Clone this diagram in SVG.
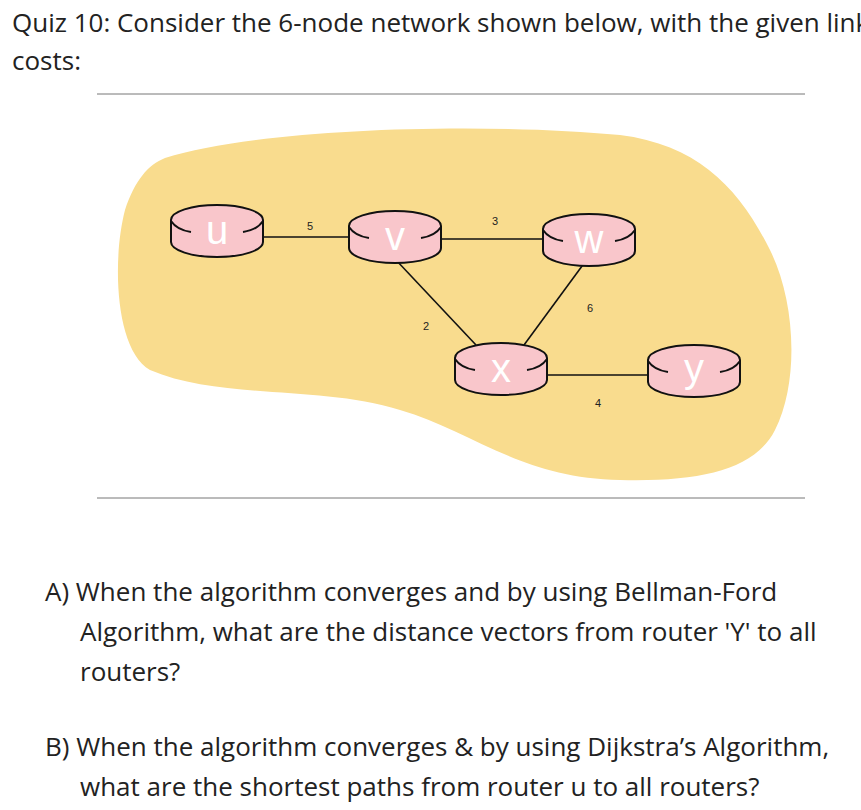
<svg xmlns="http://www.w3.org/2000/svg" width="861" height="810" viewBox="0 0 861 810">
<defs>
<style>
.t{font-family:"Open Sans","Noto Sans",sans-serif;font-size:26px;fill:#222}
.l{font-family:"Liberation Sans",Arial,sans-serif;font-size:11px;fill:#222;text-anchor:middle}
.n{font-family:"Liberation Sans",Arial,sans-serif;font-size:40px;fill:#fff;text-anchor:middle}
.r{fill:#f9c6cb;stroke:#111;stroke-width:2}
.h{fill:none;stroke:#111;stroke-width:2}
.e{stroke:#111;stroke-width:1.6}
</style>
<g id="router">
<path class="r" d="M-46,0 A46,15 0 0 1 46,0 V22 A46,15 0 0 1 -46,22 Z"/>
<path class="h" d="M-46,1 Q-40,10 -26,12 M46,1 Q40,10 26,12"/>
</g>
</defs>
<rect width="861" height="810" fill="#fff"/>
<text class="t" x="12" y="32">Quiz 10: Consider the 6-node network shown below, with the given link</text>
<text class="t" x="12" y="70">costs:</text>
<line x1="97" y1="94" x2="805" y2="94" stroke="#777" stroke-width="1"/>
<line x1="97" y1="498" x2="805" y2="498" stroke="#777" stroke-width="1"/>
<path d="M165,158 C260,128 480,122 620,135 C700,145 740,190 770,250 C795,300 800,380 775,430 C755,470 700,482 620,480 C520,478 470,430 400,410 C320,385 220,400 150,370 C115,350 112,260 125,210 C135,180 148,165 165,158 Z" fill="#f9dc8e"/>
<g id="connectors">
<line class="e" x1="262" y1="237" x2="350" y2="237"/>
<line class="e" x1="440" y1="239" x2="545" y2="239"/>
<line class="e" x1="396" y1="260" x2="476" y2="345"/>
<line class="e" x1="585" y1="262" x2="524" y2="345"/>
<line class="e" x1="545" y1="375" x2="650" y2="375"/>
<text class="l" x="310" y="230">5</text>
<text class="l" x="495" y="225">3</text>
<text class="l" x="590" y="312">6</text>
<text class="l" x="426" y="330">2</text>
<text class="l" x="598" y="407">4</text>
</g>
<g id="u"><use href="#router" x="217" y="220"/><text class="n" x="217" y="244">u</text></g>
<g id="v"><use href="#router" x="395" y="226"/><text class="n" x="395" y="250">v</text></g>
<g id="w"><use href="#router" x="589" y="229"/><text class="n" x="589" y="253">w</text></g>
<g id="x"><use href="#router" x="501" y="358"/><text class="n" x="501" y="382">x</text></g>
<g id="y"><use href="#router" x="694" y="360"/><text class="n" x="694" y="382">y</text></g>
<text class="t" x="45" y="601">A) When the algorithm converges and by using Bellman-Ford</text>
<text class="t" x="80" y="641">Algorithm, what are the distance vectors from router 'Y' to all</text>
<text class="t" x="80" y="681">routers?</text>
<text class="t" x="45" y="756">B) When the algorithm converges &amp; by using Dijkstra’s Algorithm,</text>
<text class="t" x="80" y="796">what are the shortest paths from router u to all routers?</text>
</svg>
